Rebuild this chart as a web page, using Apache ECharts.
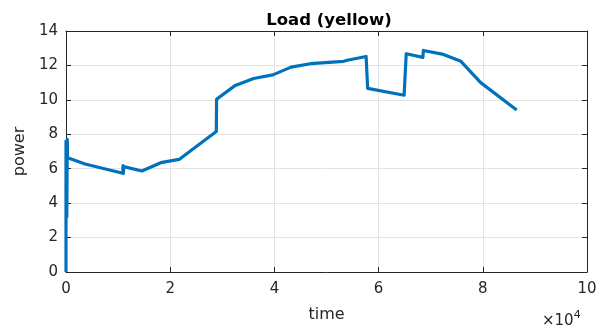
<!DOCTYPE html>
<html>
<head>
<meta charset="utf-8">
<script src="https://cdn.jsdelivr.net/npm/echarts@6/dist/echarts.min.js"></script>
<style>html,body{margin:0;padding:0;background:#fff;}#c{width:607px;height:328px;}</style>
</head>
<body>
<div id="c"></div>
<script>
var times = [0, 0, 150, 250, 300, 3650, 10900, 10950, 11000, 11100, 14550, 18200, 21700, 28850, 28900, 32500, 36000, 39700, 43200, 46900, 53300, 54000, 57600, 57900, 64900, 65300, 68500, 68600, 72200, 75800, 79600, 86500];
var power = [0, 7.6, 3.2, 7.7, 6.64, 6.27, 5.74, 6.18, 5.72, 6.12, 5.87, 6.35, 6.54, 8.16, 10.04, 10.84, 11.24, 11.45, 11.9, 12.1, 12.24, 12.3, 12.52, 10.67, 10.27, 12.68, 12.47, 12.87, 12.66, 12.24, 11.0, 9.41];
var xTickLabels = ['0', '2', '4', '6', '8', '10'];
var yTicks = [0, 2, 4, 6, 8, 10, 12, 14];

var data = times.map(function (t, i) { return [t, power[i]]; });
var axisCol = '#262626';
var ff = 'DejaVu Sans';
var chart = echarts.init(document.getElementById('c'));
chart.setOption({
  animation: false,
  title: {
    text: 'Load (yellow)', left: 324, top: 7, textAlign: 'center',
    textStyle: { fontFamily: ff, fontSize: 16.5, fontWeight: 'bold', color: '#000' }
  },
  grid: { left: 66, right: 20, top: 31, bottom: 53, containLabel: false },
  xAxis: [{
    type: 'value', min: 0, max: 100000, interval: 20000,
    name: 'time', nameLocation: 'middle', nameGap: 35,
    nameTextStyle: { fontFamily: ff, fontSize: 16, color: axisCol },
    axisLine: { onZero: false, lineStyle: { color: axisCol, width: 1 } },
    axisTick: { inside: true, length: 5, lineStyle: { color: axisCol } },
    axisLabel: { fontFamily: ff, fontSize: 15, color: axisCol, margin: 10,
      formatter: function (v) { return xTickLabels[Math.round(v / 20000)]; } },
    splitLine: { show: true, lineStyle: { color: '#e3e3e3', width: 1 } }
  }, {
    type: 'value', position: 'top', min: 0, max: 100000, interval: 20000,
    axisLine: { onZero: false, lineStyle: { color: axisCol, width: 1 } },
    axisTick: { inside: true, length: 5, lineStyle: { color: axisCol } },
    axisLabel: { show: false }, splitLine: { show: false }
  }],
  yAxis: [{
    type: 'value', min: yTicks[0], max: yTicks[yTicks.length - 1], interval: 2,
    name: 'power', nameLocation: 'middle', nameGap: 33,
    nameTextStyle: { fontFamily: ff, fontSize: 16, color: axisCol },
    axisLine: { show: true, onZero: false, lineStyle: { color: axisCol, width: 1 } },
    axisTick: { show: true, inside: true, length: 5, lineStyle: { color: axisCol } },
    axisLabel: { fontFamily: ff, fontSize: 15, color: axisCol, margin: 8 },
    splitLine: { show: true, lineStyle: { color: '#e3e3e3', width: 1 } }
  }, {
    type: 'value', position: 'right', min: 0, max: 14, interval: 2,
    axisLine: { show: true, onZero: false, lineStyle: { color: axisCol, width: 1 } },
    axisTick: { show: true, inside: true, length: 5, lineStyle: { color: axisCol } },
    axisLabel: { show: false }, splitLine: { show: false }
  }],
  graphic: [{
    type: 'text', left: 542, top: 310,
    style: {
      text: '{a|×10}{b|4}',
      rich: {
        a: { fontFamily: ff, fontSize: 15, fill: axisCol, verticalAlign: 'bottom' },
        b: { fontFamily: ff, fontSize: 11, fill: axisCol, verticalAlign: 'top', padding: [0, 0, 8, 0] }
      }
    }
  }],
  series: [{
    type: 'line', data: data, showSymbol: false, symbol: 'none',
    lineStyle: { color: '#0072BD', width: 3.2, join: 'round' },
    clip: true
  }]
});
</script>
</body>
</html>
